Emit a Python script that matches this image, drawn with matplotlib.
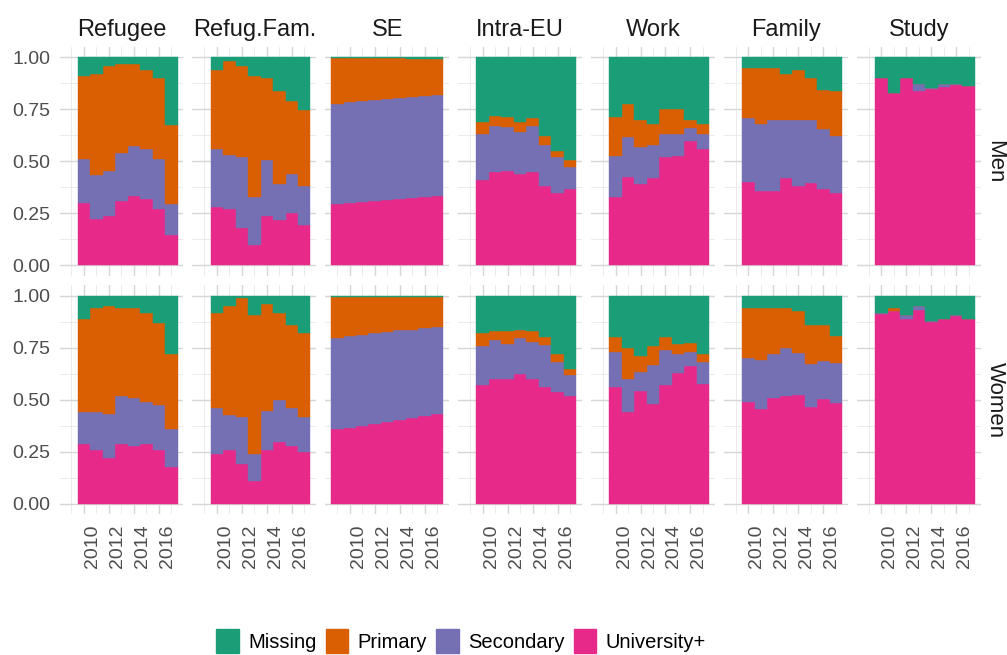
"""Education level shares by migrant group, sex and arrival year (faceted stacked bars)."""

import matplotlib
matplotlib.use("Agg")
import matplotlib.pyplot as plt
from matplotlib.patches import Patch
import numpy as np

groups = ["Refugee", "Refug.Fam.", "SE", "Intra-EU", "Work", "Family", "Study"]
sexes = ["Men", "Women"]
categories = ["Missing", "Primary", "Secondary", "University+"]
colors = {"Missing": "#1B9E77", "Primary": "#D95F02",
          "Secondary": "#7570B3", "University+": "#E7298A"}

years_8 = [2010, 2011, 2012, 2013, 2014, 2015, 2016, 2017]
years_9 = [2009, 2010, 2011, 2012, 2013, 2014, 2015, 2016, 2017]
group_years = [years_8, years_8, years_9, years_8, years_8, years_8, years_8]

# shares per group (same order as groups), men
univ_men = [
    [0.30, 0.22, 0.24, 0.31, 0.33, 0.32, 0.27, 0.15],
    [0.28, 0.27, 0.18, 0.10, 0.24, 0.22, 0.25, 0.19],
    [0.295, 0.300, 0.304, 0.308, 0.312, 0.317, 0.324, 0.330, 0.335],
    [0.41, 0.45, 0.46, 0.44, 0.45, 0.38, 0.35, 0.37],
    [0.33, 0.42, 0.39, 0.42, 0.52, 0.53, 0.60, 0.56],
    [0.40, 0.36, 0.36, 0.42, 0.38, 0.39, 0.37, 0.35],
    [0.90, 0.83, 0.90, 0.84, 0.85, 0.86, 0.87, 0.86],
]
sec_men = [
    [0.21, 0.21, 0.22, 0.23, 0.24, 0.24, 0.24, 0.15],
    [0.28, 0.26, 0.34, 0.23, 0.27, 0.17, 0.19, 0.19],
    [0.481, 0.484, 0.484, 0.485, 0.486, 0.486, 0.485, 0.486, 0.484],
    [0.22, 0.22, 0.21, 0.20, 0.22, 0.20, 0.17, 0.11],
    [0.20, 0.19, 0.18, 0.16, 0.11, 0.11, 0.06, 0.07],
    [0.31, 0.32, 0.34, 0.28, 0.32, 0.30, 0.29, 0.27],
    [0.00, 0.00, 0.00, 0.03, 0.005, 0.013, 0.005, 0.00],
]
prim_men = [
    [0.40, 0.48, 0.51, 0.43, 0.39, 0.38, 0.39, 0.38],
    [0.38, 0.45, 0.44, 0.58, 0.40, 0.45, 0.35, 0.36],
    [0.219, 0.211, 0.207, 0.202, 0.197, 0.192, 0.185, 0.177, 0.173],
    [0.06, 0.05, 0.05, 0.05, 0.04, 0.04, 0.03, 0.03],
    [0.19, 0.16, 0.13, 0.10, 0.12, 0.12, 0.04, 0.05],
    [0.24, 0.27, 0.25, 0.22, 0.24, 0.20, 0.19, 0.22],
    [0.00, 0.00, 0.00, 0.00, 0.00, 0.00, 0.00, 0.00],
]
miss_men = [
    [0.09, 0.08, 0.04, 0.03, 0.03, 0.06, 0.10, 0.33],
    [0.06, 0.02, 0.04, 0.09, 0.10, 0.16, 0.21, 0.25],
    [0.005, 0.005, 0.005, 0.005, 0.005, 0.005, 0.006, 0.007, 0.008],
    [0.31, 0.28, 0.29, 0.31, 0.29, 0.38, 0.45, 0.50],
    [0.29, 0.22, 0.30, 0.32, 0.25, 0.25, 0.30, 0.32],
    [0.05, 0.05, 0.05, 0.08, 0.06, 0.10, 0.16, 0.16],
    [0.10, 0.17, 0.10, 0.13, 0.15, 0.13, 0.13, 0.14],
]

# women
univ_women = [
    [0.29, 0.26, 0.22, 0.29, 0.28, 0.29, 0.26, 0.18],
    [0.24, 0.26, 0.19, 0.11, 0.26, 0.30, 0.28, 0.25],
    [0.358, 0.366, 0.376, 0.384, 0.394, 0.405, 0.414, 0.422, 0.430],
    [0.57, 0.60, 0.60, 0.62, 0.60, 0.57, 0.54, 0.52],
    [0.56, 0.44, 0.55, 0.48, 0.57, 0.63, 0.67, 0.58],
    [0.49, 0.46, 0.51, 0.52, 0.52, 0.47, 0.50, 0.48],
    [0.91, 0.93, 0.88, 0.93, 0.88, 0.89, 0.90, 0.89],
]
sec_women = [
    [0.15, 0.18, 0.21, 0.23, 0.23, 0.20, 0.22, 0.18],
    [0.22, 0.17, 0.23, 0.13, 0.19, 0.20, 0.18, 0.17],
    [0.440, 0.439, 0.435, 0.438, 0.433, 0.430, 0.424, 0.423, 0.418],
    [0.19, 0.19, 0.17, 0.17, 0.18, 0.20, 0.14, 0.10],
    [0.17, 0.16, 0.09, 0.19, 0.17, 0.09, 0.07, 0.11],
    [0.21, 0.24, 0.21, 0.23, 0.20, 0.21, 0.18, 0.19],
    [0.006, 0.00, 0.022, 0.016, 0.005, 0.00, 0.005, 0.00],
]
prim_women = [
    [0.45, 0.50, 0.52, 0.42, 0.43, 0.43, 0.40, 0.36],
    [0.46, 0.53, 0.57, 0.67, 0.52, 0.42, 0.40, 0.40],
    [0.196, 0.189, 0.183, 0.172, 0.167, 0.159, 0.156, 0.149, 0.146],
    [0.06, 0.04, 0.06, 0.04, 0.05, 0.04, 0.04, 0.03],
    [0.07, 0.15, 0.08, 0.09, 0.06, 0.05, 0.04, 0.04],
    [0.24, 0.25, 0.22, 0.19, 0.20, 0.19, 0.17, 0.13],
    [0.00, 0.013, 0.00, 0.00, 0.00, 0.00, 0.00, 0.00],
]
miss_women = [
    [0.11, 0.06, 0.05, 0.06, 0.06, 0.08, 0.13, 0.28],
    [0.08, 0.05, 0.01, 0.09, 0.04, 0.08, 0.14, 0.18],
    [0.006, 0.006, 0.006, 0.006, 0.006, 0.006, 0.006, 0.006, 0.006],
    [0.18, 0.17, 0.17, 0.16, 0.17, 0.20, 0.28, 0.35],
    [0.20, 0.25, 0.29, 0.24, 0.20, 0.23, 0.23, 0.28],
    [0.06, 0.06, 0.06, 0.06, 0.07, 0.14, 0.14, 0.19],
    [0.08, 0.06, 0.09, 0.05, 0.12, 0.11, 0.09, 0.11],
]

series = {
    "Men": {"University+": univ_men, "Secondary": sec_men,
            "Primary": prim_men, "Missing": miss_men},
    "Women": {"University+": univ_women, "Secondary": sec_women,
              "Primary": prim_women, "Missing": miss_women},
}

FONT = "Liberation Sans"
TICK_COLOR = "#4D4D4D"
STRIP_COLOR = "#1A1A1A"


def main():
    plt.rcParams["font.family"] = [FONT, "DejaVu Sans"]

    fig, axes = plt.subplots(2, 7, figsize=(10.07, 6.55), dpi=100,
                             sharex=True, sharey=True)
    fig.subplots_adjust(left=59.6 / 1007, right=980.6 / 1007,
                        top=1 - 46.9 / 655, bottom=1 - 514.4 / 655,
                        wspace=0.0752, hspace=0.042)

    stack_order = ["University+", "Secondary", "Primary", "Missing"]

    for r, sex in enumerate(sexes):
        for c, group in enumerate(groups):
            ax = axes[r, c]
            yrs = np.array(group_years[c])
            vals = np.array([series[sex][cat][c] for cat in stack_order], dtype=float)
            # position = "fill": normalise each year to 1
            vals = vals / vals.sum(axis=0)
            bottom = np.zeros(len(yrs))
            for cat, v in zip(stack_order, vals):
                ax.bar(yrs, v, width=1.0, bottom=bottom, color=colors[cat],
                       edgecolor=colors[cat], linewidth=0.3, zorder=2)
                bottom += v

            ax.set_xlim(2008.05, 2017.95)
            ax.set_ylim(-0.05, 1.05)
            ax.set_xticks([2010, 2012, 2014, 2016])
            ax.set_xticks([2009, 2011, 2013, 2015, 2017], minor=True)
            ax.set_yticks([0, 0.25, 0.5, 0.75, 1.0])
            ax.set_yticks([0.125, 0.375, 0.625, 0.875], minor=True)
            ax.grid(which="major", color="#D6D6D6", linewidth=1.0, zorder=0)
            ax.grid(which="minor", color="#E8E8E8", linewidth=0.6, zorder=0)
            ax.set_axisbelow(True)
            for s in ax.spines.values():
                s.set_visible(False)
            ax.tick_params(which="both", length=0)
            ax.tick_params(axis="y", labelsize=14, labelcolor=TICK_COLOR, pad=6.9)
            ax.tick_params(axis="x", labelsize=14, labelcolor=TICK_COLOR, pad=7.0)

            if r == 0:
                ax.set_title(group, fontsize=17, color=STRIP_COLOR, pad=7.9)

        # row strip on the right
        pos = axes[r, -1].get_position()
        fig.text(984.5 / 1007, (pos.y0 + pos.y1) / 2, sex, rotation=-90,
                 ha="left", va="center", fontsize=16, color=STRIP_COLOR)

    axes[0, 0].yaxis.set_major_formatter(plt.FuncFormatter(lambda v, _: f"{v:.2f}"))
    for ax in axes[1]:
        for lab in ax.get_xticklabels():
            lab.set_rotation(90)
            lab.set_ha("left")
            lab.set_va("top")

    handles = [Patch(facecolor=colors[c], edgecolor=colors[c], label=c) for c in categories]
    fig.legend(handles=handles, loc="center", bbox_to_anchor=(461 / 1007, 1 - 641 / 655),
               ncol=4, frameon=False, fontsize=14.5, handlelength=1.13, handleheight=1.4,
               handletextpad=0.46, columnspacing=0.45, borderpad=0, borderaxespad=0)

    plt.savefig("out.png", dpi=100)


if __name__ == "__main__":
    main()
